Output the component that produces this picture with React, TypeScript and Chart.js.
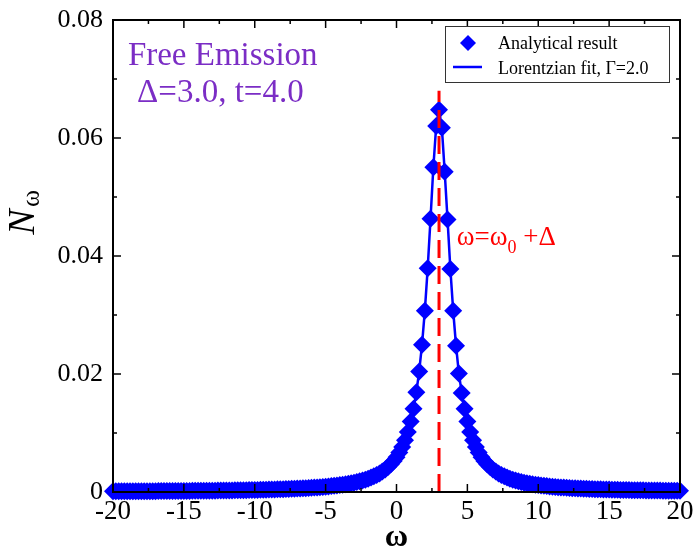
import React, { useEffect, useRef } from 'react';
import { Chart, registerables } from 'chart.js';

Chart.register(...registerables);

// ω grid (x values of the analytical result)
const omega = [
  -20, -19.8, -19.6, -19.4, -19.2, -19, -18.8, -18.6, -18.4, -18.2,
  -18, -17.8, -17.6, -17.4, -17.2, -17, -16.8, -16.6, -16.4, -16.2,
  -16, -15.8, -15.6, -15.4, -15.2, -15, -14.8, -14.6, -14.4, -14.2,
  -14, -13.8, -13.6, -13.4, -13.2, -13, -12.8, -12.6, -12.4, -12.2,
  -12, -11.8, -11.6, -11.4, -11.2, -11, -10.8, -10.6, -10.4, -10.2,
  -10, -9.8, -9.6, -9.4, -9.2, -9, -8.8, -8.6, -8.4, -8.2,
  -8, -7.8, -7.6, -7.4, -7.2, -7, -6.8, -6.6, -6.4, -6.2,
  -6, -5.8, -5.6, -5.4, -5.2, -5, -4.8, -4.6, -4.4, -4.2,
  -4, -3.8, -3.6, -3.4, -3.2, -3, -2.8, -2.6, -2.4, -2.2,
  -2, -1.8, -1.6, -1.4, -1.2, -1, -0.8, -0.6, -0.4, -0.2,
  0, 0.2, 0.4, 0.6, 0.8, 1, 1.2, 1.4, 1.6, 1.8,
  2, 2.2, 2.4, 2.6, 2.8, 3, 3.2, 3.4, 3.6, 3.8,
  4, 4.2, 4.4, 4.6, 4.8, 5, 5.2, 5.4, 5.6, 5.8,
  6, 6.2, 6.4, 6.6, 6.8, 7, 7.2, 7.4, 7.6, 7.8,
  8, 8.2, 8.4, 8.6, 8.8, 9, 9.2, 9.4, 9.6, 9.8,
  10, 10.2, 10.4, 10.6, 10.8, 11, 11.2, 11.4, 11.6, 11.8,
  12, 12.2, 12.4, 12.6, 12.8, 13, 13.2, 13.4, 13.6, 13.8,
  14, 14.2, 14.4, 14.6, 14.8, 15, 15.2, 15.4, 15.6, 15.8,
  16, 16.2, 16.4, 16.6, 16.8, 17, 17.2, 17.4, 17.6, 17.8,
  18, 18.2, 18.4, 18.6, 18.8, 19, 19.2, 19.4, 19.6, 19.8,
  20,
];

// N_ω values (analytical result)
const nOmega = [
  0.00011, 0.000112, 0.000114, 0.000116, 0.000118, 0.000121, 0.000123, 0.000125, 0.000127, 0.00013,
  0.000132, 0.000135, 0.000137, 0.00014, 0.000143, 0.000146, 0.000149, 0.000152, 0.000155, 0.000158,
  0.000162, 0.000165, 0.000169, 0.000172, 0.000176, 0.00018, 0.000184, 0.000188, 0.000193, 0.000197,
  0.000202, 0.000207, 0.000212, 0.000217, 0.000222, 0.000228, 0.000233, 0.000239, 0.000246, 0.000252,
  0.000259, 0.000266, 0.000273, 0.000281, 0.000289, 0.000297, 0.000306, 0.000315, 0.000324, 0.000334,
  0.000344, 0.000355, 0.000366, 0.000378, 0.000391, 0.000404, 0.000417, 0.000432, 0.000447, 0.000463,
  0.00048, 0.000498, 0.000516, 0.000536, 0.000557, 0.00058, 0.000603, 0.000628, 0.000655, 0.000684,
  0.000714, 0.000746, 0.000781, 0.000818, 0.000858, 0.000901, 0.000947, 0.000997, 0.00105, 0.00111,
  0.00117, 0.00124, 0.00132, 0.0014, 0.00149, 0.00158, 0.00169, 0.00181, 0.00195, 0.00209,
  0.00226, 0.00244, 0.00265, 0.00289, 0.00315, 0.00346, 0.00381, 0.00422, 0.00469, 0.00525,
  0.00591, 0.00669, 0.00763, 0.00878, 0.01018, 0.01193, 0.01412, 0.01689, 0.02043, 0.02496,
  0.03074, 0.03791, 0.04632, 0.05504, 0.06205, 0.0648, 0.06175, 0.0543, 0.0462, 0.0378,
  0.0307, 0.0248, 0.0201, 0.0168, 0.0141, 0.01193, 0.01018, 0.00878, 0.00763, 0.00669,
  0.00591, 0.00525, 0.00469, 0.00422, 0.00381, 0.00346, 0.00315, 0.00289, 0.00265, 0.00244,
  0.00226, 0.00209, 0.00195, 0.00181, 0.00169, 0.00158, 0.00149, 0.0014, 0.00132, 0.00124,
  0.00117, 0.00111, 0.00105, 0.000997, 0.000947, 0.000901, 0.000858, 0.000818, 0.000781, 0.000746,
  0.000714, 0.000684, 0.000655, 0.000628, 0.000603, 0.00058, 0.000557, 0.000536, 0.000516, 0.000498,
  0.00048, 0.000463, 0.000447, 0.000432, 0.000417, 0.000404, 0.000391, 0.000378, 0.000366, 0.000355,
  0.000344, 0.000334, 0.000324, 0.000315, 0.000306, 0.000297, 0.000289, 0.000281, 0.000273, 0.000266,
  0.000259, 0.000252, 0.000246, 0.000239, 0.000233, 0.000228, 0.000222, 0.000217, 0.000212, 0.000207,
  0.000202,
];

// resonance marker ω = ω0 + Δ
const resonanceOmega = [3, 3];
const resonanceN = [0, 0.068];

const xTickValues = [-20, -15, -10, -5, 0, 5, 10, 15, 20];
const yTickValues = [0, 0.02, 0.04, 0.06, 0.08];
const legendLabels = ['Analytical result', 'Lorentzian fit, \u0393=2.0'];
const infoLines = ['Free Emission', '\u0394=3.0, t=4.0'];

const SERIF = "'Liberation Serif', 'DejaVu Serif', serif";
const BLUE = '#0000ff';
const RED = '#ff0000';
const PURPLE = '#7b2dc5';

function drawDiamond(ctx: CanvasRenderingContext2D, x: number, y: number, r: number) {
  ctx.beginPath();
  ctx.moveTo(x - r, y);
  ctx.lineTo(x, y - r);
  ctx.lineTo(x + r, y);
  ctx.lineTo(x, y + r);
  ctx.closePath();
  ctx.fill();
}

const decorPlugin = {
  id: 'decor',
  afterDatasetsDraw(chart: any) {
    const { ctx, chartArea: a, scales } = chart;
    const xs = scales.x;
    const ys = scales.y;
    ctx.save();

    // frame
    ctx.strokeStyle = '#000';
    ctx.lineWidth = 2;
    ctx.strokeRect(a.left, a.top, a.right - a.left, a.bottom - a.top);

    // inward ticks
    const seg = (x1: number, y1: number, x2: number, y2: number) => {
      ctx.beginPath();
      ctx.moveTo(x1, y1);
      ctx.lineTo(x2, y2);
      ctx.stroke();
    };
    ctx.lineWidth = 1.5;
    for (let i = 0; i < xTickValues.length; i++) {
      const v = xTickValues[i];
      const px = xs.getPixelForValue(v);
      seg(px, a.bottom, px, a.bottom - 8);
      seg(px, a.top, px, a.top + 8);
      if (i < xTickValues.length - 1) {
        const m = xs.getPixelForValue((v + xTickValues[i + 1]) / 2);
        seg(m, a.bottom, m, a.bottom - 4);
        seg(m, a.top, m, a.top + 4);
      }
    }
    for (let i = 0; i < yTickValues.length; i++) {
      const v = yTickValues[i];
      const py = ys.getPixelForValue(v);
      seg(a.left, py, a.left + 8, py);
      seg(a.right, py, a.right - 8, py);
      if (i < yTickValues.length - 1) {
        const m = ys.getPixelForValue((v + yTickValues[i + 1]) / 2);
        seg(a.left, m, a.left + 4, m);
        seg(a.right, m, a.right - 4, m);
      }
    }

    // info text (purple)
    ctx.fillStyle = PURPLE;
    ctx.font = `33px ${SERIF}`;
    ctx.textAlign = 'left';
    ctx.textBaseline = 'alphabetic';
    ctx.fillText(infoLines[0], xs.getPixelForValue(-18.95), ys.getPixelForValue(0.0724));
    ctx.fillText(infoLines[1], xs.getPixelForValue(-18.3), ys.getPixelForValue(0.0661));

    // resonance label (red)
    ctx.fillStyle = RED;
    let tx = xs.getPixelForValue(4.25);
    const ty = ys.getPixelForValue(0.0418);
    ctx.font = `27px ${SERIF}`;
    ctx.fillText('\u03c9=\u03c9', tx, ty);
    tx += ctx.measureText('\u03c9=\u03c9').width;
    ctx.font = `18px ${SERIF}`;
    ctx.fillText('0', tx, ty + 8);
    tx += ctx.measureText('0').width;
    ctx.font = `27px ${SERIF}`;
    ctx.fillText(' +\u0394', tx, ty);

    // legend
    const bx = a.right - 235;
    const by = a.top + 6;
    ctx.fillStyle = '#fff';
    ctx.fillRect(bx, by, 224, 56);
    ctx.strokeStyle = '#333';
    ctx.lineWidth = 1;
    ctx.strokeRect(bx + 0.5, by + 0.5, 224, 56);
    ctx.fillStyle = BLUE;
    drawDiamond(ctx, bx + 23, by + 17, 8);
    ctx.strokeStyle = BLUE;
    ctx.lineWidth = 2.5;
    seg(bx + 8, by + 41, bx + 37, by + 41);
    ctx.fillStyle = '#000';
    ctx.font = `18px ${SERIF}`;
    ctx.fillText(legendLabels[0], bx + 53, by + 23);
    ctx.fillText(legendLabels[1], bx + 53, by + 48);

    // axis titles
    ctx.font = `bold 32px ${SERIF}`;
    ctx.textAlign = 'center';
    ctx.fillText('\u03c9', (a.left + a.right) / 2, 546);

    ctx.save();
    ctx.translate(34, 222);
    ctx.rotate(-Math.PI / 2);
    ctx.textAlign = 'center';
    ctx.font = `italic 38px ${SERIF}`;
    ctx.fillText('N', 0, 0);
    ctx.font = `26px ${SERIF}`;
    ctx.textAlign = 'left';
    ctx.fillText('\u03c9', 15, 5);
    ctx.restore();

    ctx.restore();
  },
};

export default function App() {
  const ref = useRef<HTMLCanvasElement | null>(null);

  useEffect(() => {
    document.body.style.margin = '0';
    const canvas = ref.current;
    if (!canvas) return;
    const pts = omega.map((x, i) => ({ x, y: nOmega[i] }));
    const chart = new Chart(canvas, {
      type: 'scatter',
      data: {
        datasets: [
          {
            label: 'resonance',
            data: resonanceOmega.map((x, i) => ({ x, y: resonanceN[i] })),
            showLine: true,
            borderColor: RED,
            borderWidth: 3,
            borderDash: [18, 8],
            pointRadius: 0,
            order: 0,
          },
          {
            label: legendLabels[0],
            data: pts,
            showLine: false,
            pointStyle: 'rectRot',
            pointRadius: 9,
            backgroundColor: BLUE,
            borderColor: BLUE,
            borderWidth: 0,
            clip: false,
            order: 1,
          } as any,
          {
            label: legendLabels[1],
            data: pts,
            showLine: true,
            borderColor: BLUE,
            borderWidth: 2.5,
            pointRadius: 0,
            order: 2,
          },
        ],
      },
      options: {
        animation: false,
        responsive: false,
        layout: { padding: { top: 20, right: 14, left: 0, bottom: 0 } },
        plugins: { legend: { display: false }, tooltip: { enabled: false } },
        scales: {
          x: {
            type: 'linear',
            min: -20,
            max: 20,
            afterBuildTicks: (s: any) => {
              s.ticks = xTickValues.map((value) => ({ value }));
            },
            grid: { display: false, drawTicks: false },
            border: { display: false },
            ticks: {
              font: { family: SERIF, size: 27 },
              color: '#000',
              padding: 4,
              maxRotation: 0,
              autoSkip: false,
              callback: (v: any) => String(v),
            },
            afterFit: (s: any) => {
              s.height = 58;
              s.paddingLeft = 0;
              s.paddingRight = 0;
            },
          },
          y: {
            type: 'linear',
            min: 0,
            max: 0.08,
            afterBuildTicks: (s: any) => {
              s.ticks = yTickValues.map((value) => ({ value }));
            },
            grid: { display: false, drawTicks: false },
            border: { display: false },
            ticks: {
              font: { family: SERIF, size: 26 },
              color: '#000',
              padding: 10,
              autoSkip: false,
              callback: (v: any) => (v === 0 ? '0' : Number(v).toFixed(2)),
            },
            afterFit: (s: any) => {
              s.width = 113;
              s.paddingTop = 0;
              s.paddingBottom = 0;
            },
          },
        },
      },
      plugins: [decorPlugin],
    });
    return () => chart.destroy();
  }, []);

  return (
    <div style={{ position: 'absolute', left: 0, top: 0, width: 694, height: 550 }}>
      <canvas ref={ref} width={694} height={550} style={{ display: 'block', width: 694, height: 550 }} />
    </div>
  );
}
